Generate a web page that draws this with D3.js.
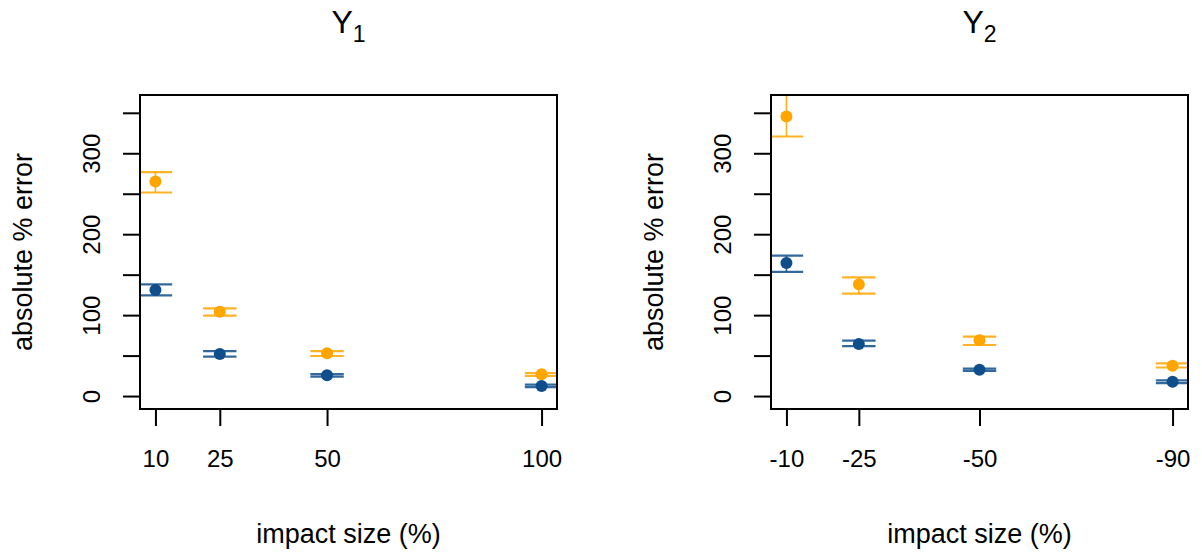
<!DOCTYPE html>
<html>
<head>
<meta charset="utf-8">
<script src="https://cdn.jsdelivr.net/npm/d3@7"></script>
<style>
  html, body { margin: 0; padding: 0; background: #ffffff; }
  svg { display: block; }
  text { font-family: "Liberation Sans", Arial, sans-serif; fill: #000; }
</style>
</head>
<body>
<svg id="chart" width="1202" height="552"></svg>
<script>
// Impact sizes (x positions) for each response variable
const impactY1 = [10, 25, 50, 100];
const impactY2 = [-10, -25, -50, -90];

// Y axis ticks (labels on every other tick)
const yTicks = [0, 50, 100, 150, 200, 250, 300, 350];
const yLabelled = [0, 100, 200, 300];

// Y1: absolute % error, mean with interval bounds
const y1OrangeMean = [265, 104.3, 52.8, 26.8];
const y1OrangeLo   = [251.5, 99.3, 49.5, 25];
const y1OrangeHi   = [276.6, 108.4, 55.6, 28.5];
const y1BlueMean   = [131, 52, 25.6, 12.4];
const y1BlueLo     = [124.5, 48.6, 24, 11];
const y1BlueHi     = [138, 55.6, 27.2, 14];

// Y2: absolute % error, mean with interval bounds
const y2OrangeMean = [345.4, 138, 68.9, 37.5];
const y2OrangeLo   = [320.7, 126.5, 63.1, 35.3];
const y2OrangeHi   = [372, 146.7, 73.4, 40.5];
const y2BlueMean   = [164.5, 64.3, 32.5, 17.7];
const y2BlueLo     = [153.4, 61.8, 31, 16];
const y2BlueHi     = [173.5, 68.4, 34, 19.4];

const orange = "#FFA500";
const blue = "#104E8B";

const svg = d3.select("#chart");

const plotTop = 95, plotBottom = 409;
const yScale = d3.scaleLinear().domain([-16, 372]).range([plotBottom, plotTop]);

function zip(xs, mean, lo, hi) {
  return xs.map((x, i) => ({ x, mean: mean[i], lo: lo[i], hi: hi[i] }));
}

const panels = [
  {
    id: "p1", sub: "1", left: 140, right: 557,
    xDomain: [6.4, 103.6], xs: impactY1,
    series: [
      { color: orange, data: zip(impactY1, y1OrangeMean, y1OrangeLo, y1OrangeHi) },
      { color: blue,   data: zip(impactY1, y1BlueMean, y1BlueLo, y1BlueHi) }
    ]
  },
  {
    id: "p2", sub: "2", left: 771, right: 1188,
    xDomain: [-6.8, -93.2], xs: impactY2,
    series: [
      { color: orange, data: zip(impactY2, y2OrangeMean, y2OrangeLo, y2OrangeHi) },
      { color: blue,   data: zip(impactY2, y2BlueMean, y2BlueLo, y2BlueHi) }
    ]
  }
];

const capHalf = 16.7;

panels.forEach(p => {
  const x = d3.scaleLinear().domain(p.xDomain).range([p.left, p.right]);
  const cx = (p.left + p.right) / 2;

  // clip region for the plotting area
  svg.append("clipPath").attr("id", "clip-" + p.id)
    .append("rect")
    .attr("x", p.left).attr("y", plotTop)
    .attr("width", p.right - p.left).attr("height", plotBottom - plotTop);

  const plot = svg.append("g").attr("clip-path", `url(#clip-${p.id})`);

  p.series.forEach(s => {
    const g = plot.append("g");
    // vertical interval lines
    g.selectAll("line.stem").data(s.data).join("line")
      .attr("class", "stem")
      .attr("x1", d => x(d.x)).attr("x2", d => x(d.x))
      .attr("y1", d => yScale(d.lo)).attr("y2", d => yScale(d.hi))
      .attr("stroke", s.color).attr("stroke-width", 1.6).attr("opacity", 0.85);
    // caps
    ["lo", "hi"].forEach(k => {
      g.selectAll("line.cap-" + k).data(s.data).join("line")
        .attr("class", "cap-" + k)
        .attr("x1", d => x(d.x) - capHalf).attr("x2", d => x(d.x) + capHalf)
        .attr("y1", d => yScale(d[k])).attr("y2", d => yScale(d[k]))
        .attr("stroke", s.color).attr("stroke-width", 2.2).attr("opacity", 0.85);
    });
    // points
    g.selectAll("circle").data(s.data).join("circle")
      .attr("cx", d => x(d.x)).attr("cy", d => yScale(d.mean))
      .attr("r", 6).attr("fill", s.color);
  });

  // frame
  svg.append("rect")
    .attr("x", p.left).attr("y", plotTop)
    .attr("width", p.right - p.left).attr("height", plotBottom - plotTop)
    .attr("fill", "none").attr("stroke", "#000").attr("stroke-width", 2);

  // y axis
  const yAxis = svg.append("g")
    .attr("transform", `translate(${p.left},0)`)
    .call(d3.axisLeft(yScale).tickValues(yTicks).tickSize(17)
      .tickFormat(v => yLabelled.includes(v) ? String(v) : ""));
  yAxis.select(".domain").remove();
  yAxis.selectAll(".tick line").attr("stroke", "#000").attr("stroke-width", 2);
  yAxis.selectAll(".tick text")
    .attr("x", null).attr("dy", null)
    .attr("text-anchor", "middle")
    .attr("font-size", 24)
    .attr("font-family", "Liberation Sans, Arial, sans-serif")
    .attr("transform", "translate(-40,0) rotate(-90)");

  // x axis
  const xAxis = svg.append("g")
    .attr("transform", `translate(0,${plotBottom})`)
    .call(d3.axisBottom(x).tickValues(p.xs).tickSize(17).tickFormat(d3.format("d")));
  xAxis.select(".domain").remove();
  xAxis.selectAll(".tick line").attr("stroke", "#000").attr("stroke-width", 2);
  xAxis.selectAll(".tick text")
    .attr("y", 58).attr("dy", null)
    .attr("font-size", 24)
    .attr("font-family", "Liberation Sans, Arial, sans-serif")
    .text(d => String(d));

  // axis titles
  svg.append("text")
    .attr("x", cx).attr("y", 543)
    .attr("text-anchor", "middle").attr("font-size", 27)
    .text("impact size (%)");

  svg.append("text")
    .attr("transform", `translate(${p.left - 108},${(plotTop + plotBottom) / 2}) rotate(-90)`)
    .attr("text-anchor", "middle").attr("font-size", 27)
    .text("absolute % error");

  // panel title with subscript
  const t = svg.append("text")
    .attr("x", cx).attr("y", 33)
    .attr("text-anchor", "middle").attr("font-size", 32);
  t.append("tspan").text("Y");
  t.append("tspan").attr("font-size", 23).attr("dy", 9).text(p.sub);
});
</script>
</body>
</html>
